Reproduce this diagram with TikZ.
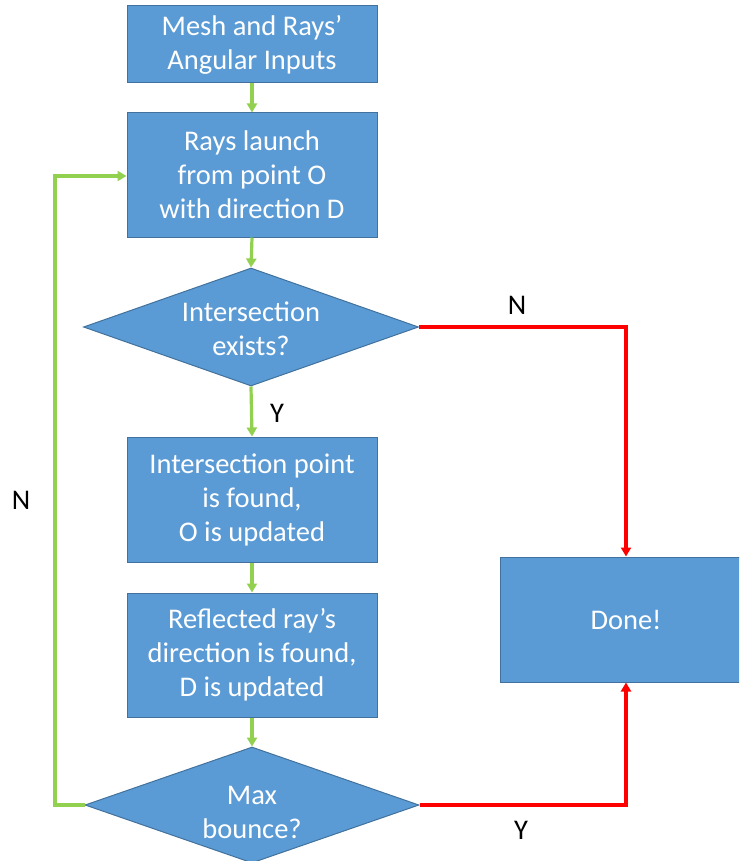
\documentclass[tikz,border=0pt]{standalone}
\usepackage{fontspec}
\setmainfont{Carlito}
\usetikzlibrary{arrows.meta,shapes.geometric}
\definecolor{boxblue}{RGB}{91,155,213}
\definecolor{boxedge}{RGB}{65,113,156}
\definecolor{arrgreen}{RGB}{146,208,80}
\definecolor{arrred}{RGB}{255,0,0}
\tikzset{
  pbox/.style={draw=boxedge, line width=1pt, fill=boxblue, rectangle, inner sep=0pt},
  dia/.style={draw=boxedge, line width=1pt, fill=boxblue, diamond, inner sep=0pt},
  txt/.style={text=white, align=center, font=\fontsize{28.5}{34}\selectfont, inner sep=0pt},
  lab/.style={text=black, font=\fontsize{28.5}{34}\selectfont, inner sep=0pt},
  garr/.style={draw=arrgreen, line width=3.2pt, -{Triangle[length=9pt,width=10pt]}},
  rarr/.style={draw=arrred, line width=3.2pt, -{Triangle[length=9pt,width=10pt]}}
}
\begin{document}
\begin{tikzpicture}[x=1pt,y=-1pt]
\clip (0,0) rectangle (739,861);
\fill[white] (0,0) rectangle (739,861);
% boxes
\node[pbox, minimum width=250pt, minimum height=77pt] (b1) at (252,44.5) {};
\node[txt] (t1) at (b1) {Mesh and Rays’\\Angular Inputs};
\node[pbox, minimum width=250pt, minimum height=124pt] (b2) at (252,175) {};
\node[txt] (t2) at (b2) {Rays launch\\from point O\\with direction D};
\node[dia, minimum width=335pt, minimum height=118pt] (d1) at (251,327) {};
\node[txt] (td1) at (251,329) {Intersection\\exists?};
\node[pbox, minimum width=250pt, minimum height=125pt] (b3) at (252,499.5) {};
\node[txt] (t3) at (b3) {Intersection point\\is found,\\O is updated};
\node[pbox, minimum width=250pt, minimum height=124pt] (b4) at (252,655) {};
\node[txt] (t4) at (b4) {Reflected ray’s\\direction is found,\\D is updated};
\node[dia, minimum width=334pt, minimum height=116pt] (d2) at (252,805) {};
\node[txt] (td2) at (252,812) {Max\\bounce?};
\node[pbox, minimum width=252pt, minimum height=125pt] (done) at (626,619.5) {};
\node[txt] (tdone) at (done) {Done!};
% coordinates for bends
\coordinate (c1) at (55,805);
\coordinate (c2) at (55,176);
\coordinate (c3) at (626,327);
\coordinate (c4) at (626,805);
% green connectors
\draw[garr] (b1.south) -- (b2.north);
\draw[garr] (b2.south) -- (d1.north);
\draw[garr] (d1.south) -- (b3.north);
\draw[garr] (b3.south) -- (b4.north);
\draw[garr] (b4.south) -- (d2.north);
\draw[garr] (d2.west) -- (c1) -- (c2) -- (b2.west |- c2);
% red connectors
\draw[rarr] (d1.east) -- (c3) -- (done.north);
\draw[rarr] (d2.east) -- (c4) -- (done.south);
% labels
\node[lab] (ly1) at (277,413) {Y};
\node[lab] (ln1) at (517,305) {N};
\node[lab] (ln2) at (21,500) {N};
\node[lab] (ly2) at (521,830) {Y};
\end{tikzpicture}
\end{document}
